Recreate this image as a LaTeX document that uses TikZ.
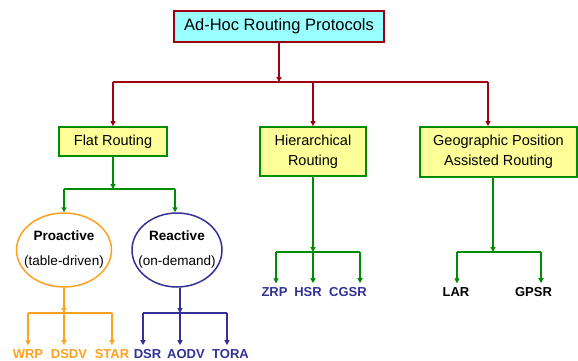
\documentclass[tikz,border=0pt]{standalone}
\usepackage{fontspec}
\setmainfont{Liberation Sans}
\usepackage{tikz}
\usetikzlibrary{arrows.meta, shapes.geometric}
\definecolor{treered}{RGB}{160,0,20}
\definecolor{treegreen}{RGB}{0,140,0}
\definecolor{treeorange}{RGB}{255,160,30}
\definecolor{treeblue}{RGB}{50,50,150}
\definecolor{boxcyan}{RGB}{153,255,255}
\definecolor{boxyellow}{RGB}{255,255,153}
\newcommand{\ovalline}[1]{\makebox[0pt]{#1}}

\begin{document}
\begin{tikzpicture}[x=1pt, y=-1pt, >={Triangle[length=5pt, width=5pt]},
    rootbox/.style={draw=treered, fill=boxcyan, line width=1.8pt, minimum width=210, minimum height=31, font=\fontsize{16.5}{18}\selectfont},
    classbox/.style={draw=treegreen, fill=boxyellow, line width=1.8pt, align=center, inner sep=0pt, font=\fontsize{14.5}{20}\selectfont},
    kindoval/.style={ellipse, draw, line width=1.5pt, minimum width=95, minimum height=74, align=center, inner sep=0pt, font=\fontsize{13.5}{25}\selectfont},
    leaf/.style={font=\bfseries\fontsize{13}{15}\selectfont, inner sep=4.5pt}]
    \useasboundingbox (0,0) rectangle (578,361);
    \node [rootbox] (root) at (279,26.5) {Ad-Hoc Routing Protocols};
    \node [classbox, minimum width=108, minimum height=29] (flat) at (113,141.5) {Flat Routing};
    \node [classbox, minimum width=106, minimum height=49] (hier) at (313,151.5) {Hierarchical\\Routing};
    \node [classbox, minimum width=157, minimum height=50] (geo) at (498.5,152) {Geographic Position\\Assisted Routing};
    \node [kindoval, draw=treeorange] (pro) at (64,250) {\ovalline{\textbf{Proactive}}\\\ovalline{(table-driven)}};
    \node [kindoval, draw=treeblue, minimum width=90] (re) at (177,250) {\ovalline{\textbf{Reactive}}\\\ovalline{(on-demand)}};
    \node [leaf, text=treeorange] (wrp) at (28,354.5) {WRP};
    \node [leaf, text=treeorange] (dsdv) at (69,354.5) {DSDV};
    \node [leaf, text=treeorange] (star) at (112,354.5) {STAR};
    \node [leaf, text=treeblue] (dsr) at (147.5,354.5) {DSR};
    \node [leaf, text=treeblue] (aodv) at (186,354.5) {AODV};
    \node [leaf, text=treeblue] (tora) at (230.5,354.5) {TORA};
    \node [leaf, text=treeblue] (zrp) at (274.5,292.5) {ZRP};
    \node [leaf, text=treeblue] (hsr) at (308,292.5) {HSR};
    \node [leaf, text=treeblue] (cgsr) at (348,292.5) {CGSR};
    \node [leaf] (lar) at (456,292.5) {LAR};
    \node [leaf] (gpsr) at (533.5,292.5) {GPSR};
    % top level
    \coordinate (topbus) at (279,82);
    \coordinate (topleft) at (113,82);
    \coordinate (topmid) at (313,82);
    \coordinate (topright) at (488,82);
    \draw [treered, line width=1.5pt] (topleft) -- (topright);
    \draw [treered, line width=1.5pt, ->] (root) -- (topbus);
    \draw [treered, line width=1.5pt, ->] (topleft) -- (flat);
    \draw [treered, line width=1.5pt, ->] (topmid) -- (hier);
    \draw [treered, line width=1.5pt, ->] (topright) -- (topright |- geo.north);
    % flat routing
    \coordinate (flatbus) at (113,189);
    \coordinate (flatleft) at (64,189);
    \coordinate (flatright) at (175,189);
    \draw [treegreen, line width=1.5pt] (flatleft) -- (flatright);
    \draw [treegreen, line width=1.5pt, ->] (flat) -- (flatbus);
    \draw [treegreen, line width=1.5pt, ->] (flatleft) -- (pro);
    \draw [treegreen, line width=1.5pt, ->] (flatright) -- (flatright |- re.north);
    % proactive
    \coordinate (probus) at (64,313);
    \coordinate (proleft) at (28,313);
    \coordinate (proright) at (112,313);
    \draw [treeorange, line width=1.5pt] (proleft) -- (proright);
    \draw [treeorange, line width=1.5pt, ->] (pro) -- (probus);
    \draw [treeorange, line width=1.5pt, ->] (proleft) -- (proleft |- wrp.north);
    \draw [treeorange, line width=1.5pt, ->] (probus) -- (probus |- dsdv.north);
    \draw [treeorange, line width=1.5pt, ->] (proright) -- (proright |- star.north);
    % reactive
    \coordinate (rebus) at (180,313);
    \coordinate (releft) at (143,313);
    \coordinate (reright) at (227,313);
    \draw [treeblue, line width=1.2pt] (releft) -- (reright);
    \draw [treeblue, line width=1.2pt, ->] (re.south -| rebus) -- (rebus);
    \draw [treeblue, line width=1.2pt, ->] (releft) -- (releft |- dsr.north);
    \draw [treeblue, line width=1.2pt, ->] (rebus) -- (rebus |- aodv.north);
    \draw [treeblue, line width=1.2pt, ->] (reright) -- (reright |- tora.north);
    % hierarchical
    \coordinate (hierbus) at (313,252);
    \coordinate (hierleft) at (276,252);
    \coordinate (hierright) at (360,252);
    \draw [treegreen, line width=1.5pt] (hierleft) -- (hierright);
    \draw [treegreen, line width=1.5pt, ->] (hier) -- (hierbus);
    \draw [treegreen, line width=1.5pt, ->] (hierleft) -- (hierleft |- zrp.north);
    \draw [treegreen, line width=1.5pt, ->] (hierbus) -- (hierbus |- hsr.north);
    \draw [treegreen, line width=1.5pt, ->] (hierright) -- (hierright |- cgsr.north);
    % geographic
    \coordinate (geobus) at (493,252);
    \coordinate (geoleft) at (457,252);
    \coordinate (georight) at (541,252);
    \draw [treegreen, line width=1.5pt] (geoleft) -- (georight);
    \draw [treegreen, line width=1.5pt, ->] (geo.south -| geobus) -- (geobus);
    \draw [treegreen, line width=1.5pt, ->] (geoleft) -- (geoleft |- lar.north);
    \draw [treegreen, line width=1.5pt, ->] (georight) -- (georight |- gpsr.north);
\end{tikzpicture}
\end{document}
